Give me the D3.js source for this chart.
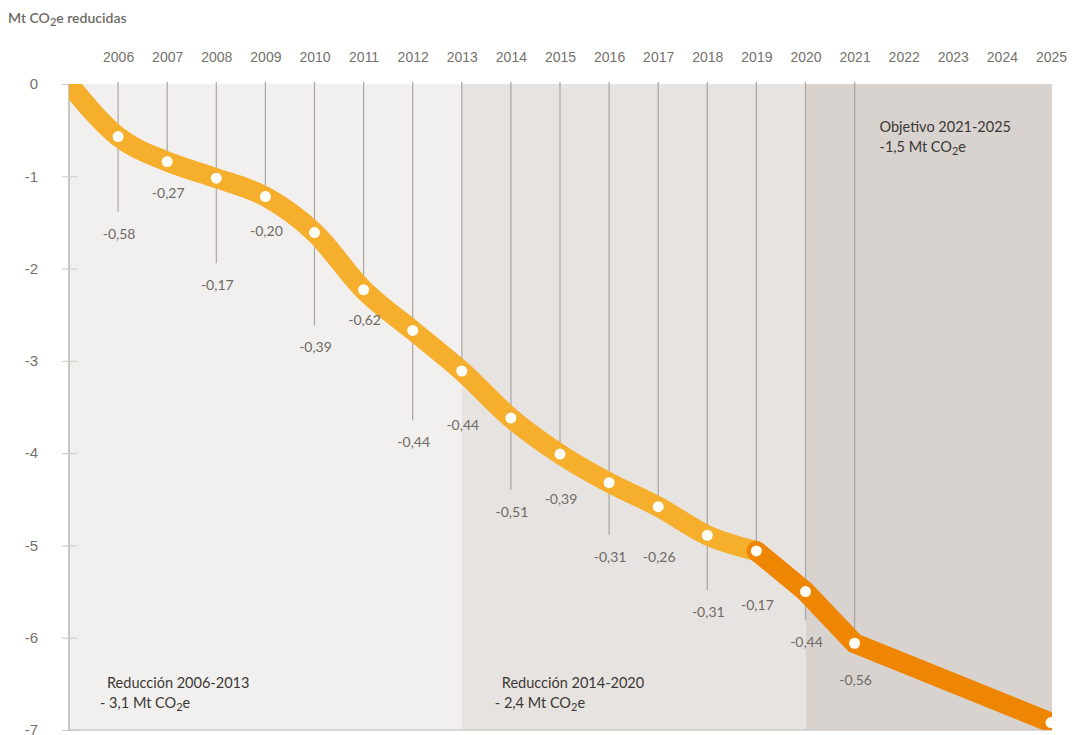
<!DOCTYPE html>
<html lang="es">
<head>
  <meta charset="UTF-8">
  <title>Mt CO2e reducidas</title>
  <script src="https://d3js.org/d3.v7.min.js"></script>
  <style>
    body { margin: 0; background: #fff; font-family: Lato, "Open Sans", sans-serif; }
    svg { display: block; }
    .axis path { display: none; }
    .axis text { fill: #76716c; }
  </style>
</head>
<body>
  <svg id="chart" width="1074" height="735"></svg>

  <script>
    // años con punto y valor acumulado (Mt CO2e)
    const years = [2005, 2006, 2007, 2008, 2009, 2010, 2011, 2012, 2013, 2014, 2015, 2016, 2017, 2018, 2019, 2020, 2021, 2025];
    const cumulative = [0, -0.57, -0.84, -1.02, -1.22, -1.61, -2.23, -2.67, -3.11, -3.62, -4.01, -4.32, -4.58, -4.89, -5.06, -5.50, -6.06, -6.92];

    // reducción anual (etiquetas), 2006-2021
    const changeYears = [2006, 2007, 2008, 2009, 2010, 2011, 2012, 2013, 2014, 2015, 2016, 2017, 2018, 2019, 2020, 2021];
    const changeLabels = ["-0,58", "-0,27", "-0,17", "-0,20", "-0,39", "-0,62", "-0,44", "-0,44", "-0,51", "-0,39", "-0,31", "-0,26", "-0,31", "-0,17", "-0,44", "-0,56"];

    const axisYears = d3.range(2006, 2026);
    const yTicks = [0, -1, -2, -3, -4, -5, -6, -7];

    // periodos sombreados
    const periods = [
      { from: 2005, to: 2013, fill: "#f2f0ee", title: "Reducción 2006-2013", total: "- 3,1 Mt CO" },
      { from: 2013, to: 2020, fill: "#e7e3e0", title: "Reducción 2014-2020", total: "- 2,4 Mt CO" },
      { from: 2020, to: 2025, fill: "#d8d3cf", title: "Objetivo 2021-2025", total: "-1,5 Mt CO" }
    ];

    // layout: cuánto baja cada etiqueta bajo su punto (px)
    const labelDrop = [97, 32, 107, 35, 115, 30, 112, 54, 94, 45, 74, 50, 77, 54, 51, 37];

    const svg = d3.select("#chart");

    const x = d3.scaleLinear().domain([2005, 2025]).range([69, 1051]);
    const y = d3.scaleLinear().domain([0, -7]).range([84, 730]);

    svg.append("clipPath").attr("id", "plot")
      .append("rect")
      .attr("x", x(2005)).attr("y", y(0))
      .attr("width", x(2025) - x(2005) + 1).attr("height", y(-7) - y(0));

    // fondos
    svg.selectAll(".period")
      .data(periods)
      .enter().append("rect")
      .attr("class", "period")
      .attr("x", d => x(d.from))
      .attr("y", y(0))
      .attr("width", d => x(d.to) - x(d.from) + (d.to === 2025 ? 1 : 0))
      .attr("height", y(-7) - y(0))
      .attr("fill", d => d.fill);

    svg.append("line")
      .attr("x1", x(2005)).attr("x2", x(2025) + 1)
      .attr("y1", y(-7)).attr("y2", y(-7))
      .attr("stroke", "#cfcac6").attr("stroke-width", 1.5);

    // líneas verticales
    const pointY = yr => y(cumulative[years.indexOf(yr)]);
    svg.selectAll(".grid")
      .data(changeYears)
      .enter().append("line")
      .attr("class", "grid")
      .attr("x1", d => x(d)).attr("x2", d => x(d))
      .attr("y1", y(0) - 2)
      .attr("y2", (d, i) => i % 2 === 0 ? pointY(d) + labelDrop[i] - 22 : pointY(d))
      .attr("stroke", "#a9a5a2").attr("stroke-width", 1.2);

    svg.append("line")
      .attr("x1", x(2005)).attr("x2", x(2005))
      .attr("y1", y(0)).attr("y2", y(-7))
      .attr("stroke", "#a9a5a2").attr("stroke-width", 1.2);

    // eje de años
    svg.append("g")
      .attr("class", "axis")
      .attr("transform", "translate(0,65)")
      .call(d3.axisTop(x).tickValues(axisYears).tickFormat(d3.format("d")).tickSize(0).tickPadding(3))
      .selectAll("text").style("font-size", "14px");

    // eje Y
    const yAxis = svg.append("g")
      .attr("class", "axis")
      .attr("transform", `translate(77,0)`)
      .call(d3.axisLeft(y).tickValues(yTicks).tickFormat(d => String(d)).tickSize(15).tickPadding(24));
    yAxis.selectAll("line").attr("stroke", "#cdc9c5");
    yAxis.selectAll("text").style("font-size", "15px").attr("fill", "#6e6a66");

    // línea gruesa: tramo amarillo suavizado, tramo naranja recto
    const pts = years.map((yr, i) => ({ year: yr, value: cumulative[i] }));
    const smooth = d3.line().x(d => x(d.year)).y(d => y(d.value)).curve(d3.curveMonotoneX);
    const straight = d3.line().x(d => x(d.year)).y(d => y(d.value)).curve(d3.curveLinear);
    const split = years.indexOf(2019);

    const g = svg.append("g").attr("clip-path", "url(#plot)");
    g.append("path")
      .datum(pts.slice(0, split + 1))
      .attr("d", smooth)
      .attr("fill", "none")
      .attr("stroke", "#f6ae2d")
      .attr("stroke-width", 20)
      .attr("stroke-linejoin", "round");
    g.append("path")
      .datum(pts.slice(split))
      .attr("d", straight)
      .attr("fill", "none")
      .attr("stroke", "#ef8602")
      .attr("stroke-width", 20)
      .attr("stroke-linecap", "round")
      .attr("stroke-linejoin", "round");

    svg.selectAll(".dot")
      .data(pts.slice(1))
      .enter().append("circle")
      .attr("class", "dot")
      .attr("cx", d => x(d.year))
      .attr("cy", d => y(d.value))
      .attr("r", 5.5)
      .attr("fill", "#fffdf6");

    // etiquetas de reducción anual
    svg.selectAll(".chg")
      .data(changeLabels)
      .enter().append("text")
      .attr("class", "chg")
      .attr("x", (d, i) => x(changeYears[i]) + 1)
      .attr("y", (d, i) => pointY(changeYears[i]) + labelDrop[i])
      .attr("dy", "0.35em")
      .attr("text-anchor", "middle")
      .style("font-size", "14px")
      .attr("fill", "#6e6a66")
      .text(d => d);

    // anotaciones de periodos
    const notePos = [
      { px: x(2005) + 38, py: 683 },
      { px: x(2013) + 40, py: 683 },
      { px: x(2020) + 74, py: 127 }
    ];
    periods.forEach((p, i) => {
      const t = svg.append("text")
        .attr("x", notePos[i].px).attr("y", notePos[i].py)
        .attr("fill", "#3b3835")
        .style("font-size", "14.5px");
      t.append("tspan").attr("x", notePos[i].px).attr("dy", "0.35em").text(p.title);
      t.append("tspan").attr("x", notePos[i].px - (i < 2 ? 7 : 0)).attr("dy", "1.35em").text(p.total);
      t.append("tspan").attr("dy", "3").style("font-size", "11px").text("2");
      t.append("tspan").attr("dy", "-3").text("e");
    });

    // título
    const title = svg.append("text")
      .attr("x", 8).attr("y", 23)
      .attr("fill", "#6e6a66")
      .style("font-size", "14px")
      .style("font-weight", "600");
    title.append("tspan").text("Mt CO");
    title.append("tspan").attr("dy", "3").style("font-size", "11px").text("2");
    title.append("tspan").attr("dy", "-3").text("e reducidas");
  </script>
</body>
</html>
